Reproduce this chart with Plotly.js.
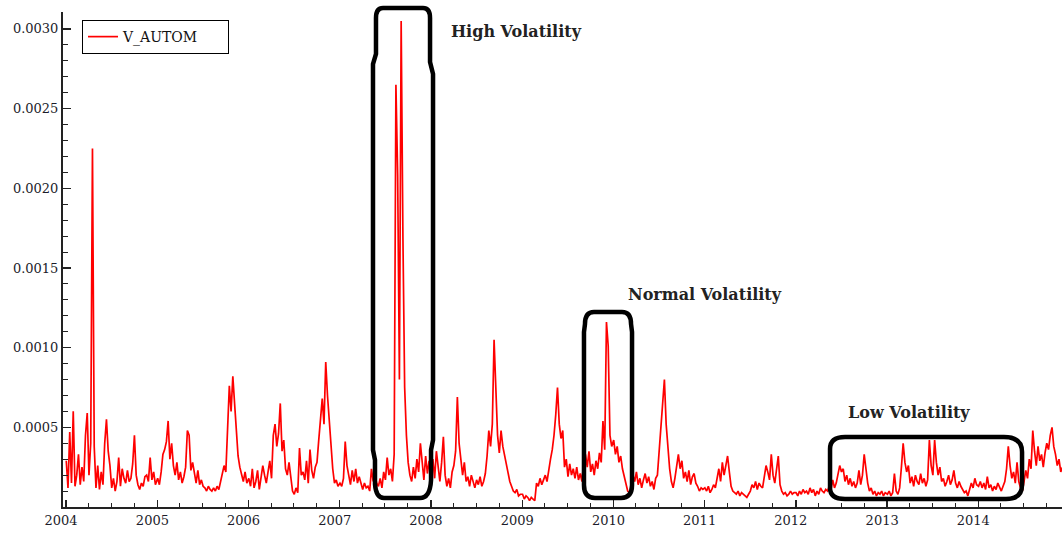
<!DOCTYPE html>
<html>
<head>
<meta charset="utf-8">
<script src="https://cdn.plot.ly/plotly-3.0.1.min.js"></script>
<style>html,body{margin:0;padding:0;background:#fff;}#chart{width:1062px;height:533px;}</style>
</head>
<body>
<div id="chart"></div>
<script>
// Weekly readings of V_AUTOM, in units of 1e-4
const vol2004 = [2.9,1.2,4.7,1.5,6.0,1.3,2.0,3.3,1.4,2.5,1.6,4.5,5.9,2.0,4.0,22.5,3.8,1.2,2.6,1.1,2.2,1.4,4.0,5.5,3.5,2.6,1.2,1.8,1.0,1.6,3.1,1.3,2.4,1.8,1.5,2.3,1.6,1.8,2.7,4.5,2.0,1.4,1.1,1.5,1.3,1.9,2.0,1.6,3.1,1.7,2.2,1.4];
const vol2005 = [1.8,1.4,2.2,3.3,3.6,4.1,5.4,3.0,4.0,2.6,2.0,2.8,1.7,2.2,1.5,1.9,2.5,4.8,4.5,2.3,2.8,2.0,1.5,2.3,1.4,1.7,1.3,1.2,1.0,1.3,1.1,1.0,1.2,1.0,1.3,1.1,1.6,2.0,2.6,2.2,5.5,7.6,6.0,8.2,6.5,4.5,3.2,2.5,2.0,1.6,2.2,1.5];
const vol2006 = [1.8,1.3,2.4,1.2,1.6,2.3,1.1,1.9,2.6,2.0,1.5,2.2,2.9,1.8,4.5,5.2,3.8,4.6,6.5,3.5,4.2,2.4,2.0,2.8,1.9,1.0,0.8,1.2,0.9,3.7,2.0,2.2,1.7,2.9,1.5,3.6,2.3,1.8,2.5,2.8,4.2,5.5,6.8,5.2,9.1,7.0,5.5,3.5,2.4,1.5,1.7,1.3];
const vol2007 = [1.5,1.3,1.8,4.1,2.6,2.0,1.4,2.3,1.6,2.4,1.5,1.9,1.4,1.1,1.5,1.2,1.3,1.0,2.4,1.6,2.0,1.5,1.3,1.8,1.2,2.2,1.7,3.1,2.0,2.4,1.6,3.3,26.5,20.8,8.0,30.5,17.0,7.5,4.5,2.8,2.0,1.6,2.5,1.8,3.0,2.2,4.0,2.6,1.7,3.2,2.1,2.9];
const vol2008 = [2.3,3.0,1.8,3.5,2.4,1.6,2.8,4.4,2.0,1.3,1.8,1.2,2.2,2.6,3.5,6.9,4.0,3.0,2.0,2.8,1.6,1.9,1.3,2.0,1.5,1.2,1.7,1.4,1.9,1.3,1.6,2.1,3.2,4.8,3.8,5.2,10.5,7.5,4.5,3.4,4.8,3.8,3.2,2.8,2.0,1.6,1.3,1.0,0.9,1.1,0.7,0.8];
const vol2009 = [0.8,0.5,0.7,0.6,0.4,0.6,0.5,0.4,1.5,1.3,1.8,1.4,1.7,2.0,1.6,2.4,3.0,3.6,4.5,5.8,7.5,5.2,4.3,4.8,2.5,3.0,1.9,2.7,2.0,2.4,1.8,2.5,1.7,2.1,1.6,2.9,3.3,2.5,3.5,2.2,2.7,2.0,2.9,2.4,3.4,2.8,5.4,3.6,11.6,10.1,4.5,3.8];
const vol2010 = [4.2,3.3,3.8,2.8,3.2,2.4,1.9,1.4,1.0,0.9,1.3,2.0,1.6,2.2,1.4,1.8,1.2,1.7,2.1,1.5,1.9,1.3,1.6,1.1,1.8,2.0,3.5,4.5,6.0,8.0,5.2,3.8,2.4,1.6,1.2,1.8,2.6,3.3,2.4,2.9,1.8,2.2,1.6,2.3,1.4,1.9,2.1,1.5,1.3,1.0,1.2,1.1];
const vol2011 = [1.2,1.0,1.3,0.9,1.1,1.4,1.2,1.8,2.4,1.6,2.8,2.0,2.5,3.2,2.2,1.3,1.0,0.9,0.8,1.0,0.7,0.9,0.8,0.7,0.6,0.8,1.0,1.4,1.2,1.6,1.1,1.5,1.3,1.2,1.8,2.6,2.2,1.7,3.3,2.0,1.5,2.5,3.2,1.4,1.0,0.8,0.9,0.7,0.8,1.0,0.8,0.9];
const vol2012 = [0.9,0.7,1.0,0.8,1.1,0.9,1.0,0.8,1.2,0.9,1.1,0.7,1.0,0.8,1.2,1.0,0.9,1.1,1.0,1.3,1.1,1.7,1.2,1.5,2.0,2.6,2.2,2.4,1.6,2.0,1.4,1.8,1.3,1.6,1.2,1.5,2.3,1.4,2.0,3.3,2.4,1.5,1.0,1.2,0.8,1.0,0.7,0.9,0.8,1.0,0.7,0.9];
const vol2013 = [0.8,1.0,0.7,0.9,2.1,1.0,0.8,1.2,2.5,4.0,2.8,2.2,2.6,1.5,1.9,1.3,2.0,1.6,1.4,2.1,1.5,1.8,1.3,1.7,4.2,2.6,2.0,4.2,2.8,2.0,2.5,1.6,1.8,1.3,1.6,2.0,1.4,1.7,2.3,1.5,1.2,1.6,1.3,1.1,0.9,1.0,0.7,1.1,1.5,1.2,1.8,1.4];
const vol2014 = [1.3,1.6,1.2,1.5,1.1,1.9,1.2,1.4,1.0,1.3,1.1,1.5,1.2,1.0,1.3,1.6,2.4,3.8,2.6,1.8,2.2,1.5,2.8,1.6,1.2,1.0,1.6,2.3,1.8,3.0,2.4,4.8,3.5,2.6,3.8,2.9,3.3,2.5,3.4,4.0,3.6,4.5,5.0,3.8,3.3,2.6,3.0,2.2,2.5];

const seriesByYear = [
  [2004, vol2004],[2005, vol2005],[2006, vol2006],[2007, vol2007],[2008, vol2008],
  [2009, vol2009],[2010, vol2010],[2011, vol2011],[2012, vol2012],[2013, vol2013],[2014, vol2014]
];
const seriesName = 'V_AUTOM';
const yTickVals = [0.0005, 0.0010, 0.0015, 0.0020, 0.0025, 0.0030];
const annotationTexts = ['High Volatility', 'Normal Volatility', 'Low Volatility'];

// weekly sampling grid inside each year
const dates = [], values = [];
seriesByYear.forEach(([yr, arr]) => {
  arr.forEach((v, i) => {
    dates.push(new Date(Date.UTC(yr, 0, 2 + 7 * i)).toISOString().slice(0, 10));
    values.push(v / 10000);
  });
});

const W = 1062, H = 533;
const M = {l: 63, r: 0, t: 12, b: 26};
const PW = W - M.l - M.r, PH = H - M.t - M.b;
function px(x){ return ((x - M.l) / PW).toFixed(4); }
function py(y){ return ((H - M.b - y) / PH).toFixed(4); }
// build path string from pixel commands
function path(cmds){
  return cmds.map(c => {
    const op = c[0];
    if (op === 'Z') return 'Z';
    const pts = [];
    for (let k = 1; k < c.length; k += 2) pts.push(px(c[k]) + ',' + py(c[k+1]));
    return op + ' ' + pts.join(' ');
  }).join(' ');
}
const boxHigh = path([
  ['M',383,8],['L',423,8],['Q',430,8,430,18],['L',430,62],['L',433,74],['L',433,440],['L',431,450],['L',431,480],
  ['Q',430,498,420,498],['L',384,498],['Q',376,498,375,484],['L',375,460],['L',373,450],['L',373,64],['L',376,54],['L',376,18],
  ['Q',376,8,383,8],['Z']
]);
const boxNormal = path([
  ['M',594,312],['L',622,312],['Q',631,312,631,324],['L',632,332],['L',632,485],['Q',632,498,621,498],['L',595,498],
  ['Q',584,498,584,485],['L',584,332],['L',585,324],['Q',585,312,594,312],['Z']
]);
const boxLow = path([
  ['M',845,437],['L',1004,437],['Q',1022,437,1022,452],['L',1022,485],['Q',1022,499,1006,499],['L',845,499],
  ['Q',830,499,830,488],['L',830,449],['Q',830,437,845,437],['Z']
]);

const serif = 'DejaVu Serif, Liberation Serif, serif';
const axisCol = '#222';
const labelCol = '#1c1c2a';

const trace = {
  x: dates, y: values, type: 'scatter', mode: 'lines', name: seriesName,
  line: {color: '#ff0000', width: 1.7}, showlegend: true
};

const layout = {
  width: W, height: H,
  margin: M,
  paper_bgcolor: '#fff', plot_bgcolor: '#fff',
  font: {family: serif, size: 13, color: labelCol},
  showlegend: true,
  legend: {
    orientation: 'h',
    x: px(82), y: py(20), xanchor: 'left', yanchor: 'top',
    bordercolor: '#000', borderwidth: 1, bgcolor: '#fff',
    font: {family: serif, size: 14, color: '#111'},
    entrywidth: 100, entrywidthmode: 'pixels'
  },
  xaxis: {
    type: 'date', range: ['2003-12-20', '2014-12-02'],
    tick0: '2004-01-01', dtick: 'M12', tickformat: '%Y',
    ticks: 'inside', ticklen: 7, tickwidth: 1.5, tickcolor: axisCol,
    showline: true, linewidth: 2, linecolor: axisCol,
    showgrid: false, zeroline: false,
    ticklabelshift: -5,
    tickfont: {family: serif, size: 13, color: labelCol},
    minor: {ticks: 'inside', ticklen: 4, tickwidth: 1, tickcolor: axisCol, dtick: 'M3', tick0: '2004-01-01', showgrid: false}
  },
  yaxis: {
    range: [0, 0.003106],
    tickvals: yTickVals, tickformat: '.4f',
    ticks: 'inside', ticklen: 8, tickwidth: 1.5, tickcolor: axisCol,
    showline: true, linewidth: 2, linecolor: axisCol,
    showgrid: false, zeroline: false,
    tickfont: {family: serif, size: 13, color: labelCol},
    minor: {ticks: 'inside', ticklen: 5, tickwidth: 1, tickcolor: axisCol, dtick: 0.0001, tick0: 0, showgrid: false}
  },
  shapes: [boxHigh, boxNormal, boxLow].map(p => ({
    type: 'path', xref: 'paper', yref: 'paper', path: p,
    line: {color: '#000', width: 4.5}, fillcolor: 'rgba(0,0,0,0)', layer: 'above'
  })),
  annotations: [
    {text: '<b>' + annotationTexts[0] + '</b>', x: px(516), y: py(32)},
    {text: '<b>' + annotationTexts[1] + '</b>', x: px(705), y: py(295)},
    {text: '<b>' + annotationTexts[2] + '</b>', x: px(909), y: py(412)}
  ].map(a => Object.assign(a, {
    xref: 'paper', yref: 'paper', showarrow: false, xanchor: 'center', yanchor: 'middle',
    font: {family: serif, size: 16, color: '#222'}
  }))
};

Plotly.newPlot('chart', [trace], layout, {displayModeBar: false, staticPlot: true});
</script>
</body>
</html>
